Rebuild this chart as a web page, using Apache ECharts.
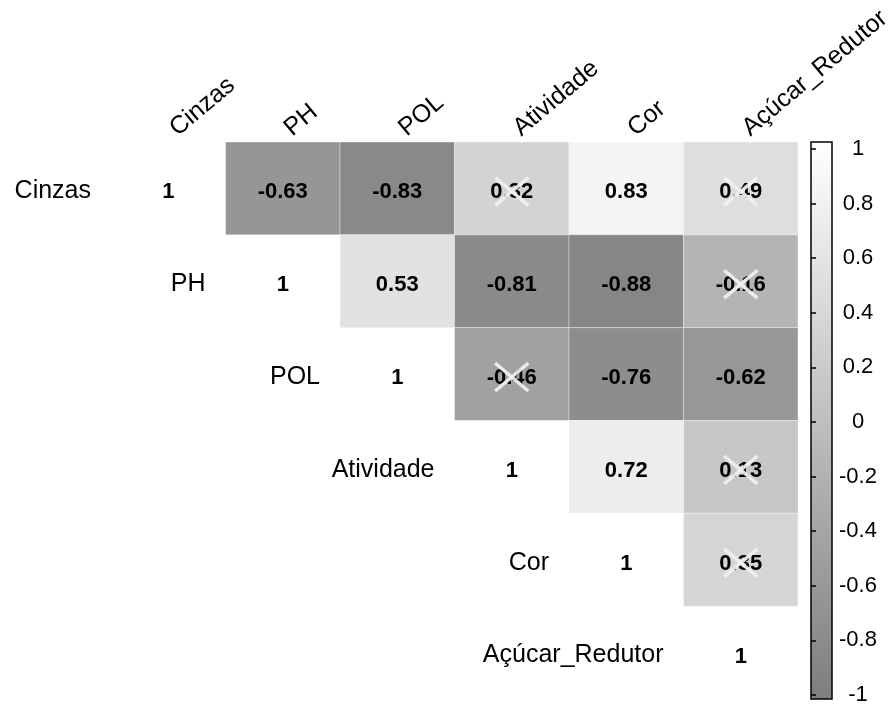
<!DOCTYPE html>
<html>
<head>
<meta charset="utf-8">
<script src="https://cdn.jsdelivr.net/npm/echarts@6/dist/echarts.min.js"></script>
<style>
  html, body { margin: 0; padding: 0; background: #fff; }
  #chart { width: 889px; height: 706px; }
</style>
</head>
<body>
<div id="chart"></div>
<script>
// Variables of the correlation matrix (row / column order)
const variables = ['Cinzas', 'PH', 'POL', 'Atividade', 'Cor', 'Açúcar_Redutor'];

// Upper-triangle correlations, one array per row (columns to the right of the diagonal)
const corCinzas = [-0.63, -0.83, 0.32, 0.83, 0.49];
const corPH = [0.53, -0.81, -0.88, -0.16];
const corPOL = [-0.46, -0.76, -0.62];
const corAtividade = [0.72, 0.13];
const corCor = [0.35];
const upperRows = [corCinzas, corPH, corPOL, corAtividade, corCor];

// Pairs whose correlation is not significant (crossed out)
const nonSignificant = [
  ['Cinzas', 'Atividade'],
  ['Cinzas', 'Açúcar_Redutor'],
  ['PH', 'Açúcar_Redutor'],
  ['POL', 'Atividade'],
  ['Atividade', 'Açúcar_Redutor'],
  ['Cor', 'Açúcar_Redutor']
];

// Colour scale range
const scaleMin = -1;
const scaleMax = 1;
const scaleStep = 0.2;

const FONT = '"Liberation Sans", Arial, sans-serif';

function isNonSig(a, b) {
  return nonSignificant.some(p => (p[0] === a && p[1] === b) || (p[0] === b && p[1] === a));
}

// [column, row, value, crossed]
const cellData = [];
upperRows.forEach((vals, r) => {
  vals.forEach((v, k) => {
    const c = r + 1 + k;
    cellData.push([c, r, v, isNonSig(variables[r], variables[c]) ? 1 : 0]);
  });
});

const diagData = variables.map((_, i) => [i, i]);
const rowLabelData = variables.map((_, i) => [i - 0.5, i]);
const topLabelData = variables.map((_, i) => [i, -0.5]);

const chart = echarts.init(document.getElementById('chart'), null, { renderer: 'canvas' });

const option = {
  backgroundColor: '#ffffff',
  animation: false,
  grid: [
    // correlation matrix
    { left: 111, top: 142, width: 687, height: 557, show: false },
    // colour bar frame
    { left: 811, top: 142, width: 21, height: 557, show: true,
      borderColor: '#000', borderWidth: 1.5, backgroundColor: 'transparent', z: 10 },
    // colour bar scale
    { left: 811, top: 149, width: 21, height: 548, show: false }
  ],
  xAxis: [
    { type: 'value', gridIndex: 0, min: -0.5, max: 5.5, show: false },
    { type: 'value', gridIndex: 1, min: 0, max: 1, show: false },
    { type: 'value', gridIndex: 2, min: 0, max: 1, show: false }
  ],
  yAxis: [
    { type: 'value', gridIndex: 0, min: -0.5, max: 5.5, inverse: true, show: false },
    { type: 'value', gridIndex: 1, min: 0, max: 1, show: false },
    { type: 'value', gridIndex: 2, min: scaleMin, max: scaleMax, interval: scaleStep,
      position: 'right', z: 12,
      axisLine: { show: false },
      axisTick: { show: true, inside: false, length: 5, lineStyle: { color: '#000', width: 1.5 } },
      splitLine: { show: false },
      axisLabel: { color: '#000', fontSize: 22, fontFamily: FONT, align: 'center', margin: 26 }
    }
  ],
  visualMap: {
    type: 'continuous',
    min: scaleMin,
    max: scaleMax,
    seriesIndex: 0,
    dimension: 2,
    calculable: false,
    hoverLink: false,
    orient: 'vertical',
    left: 811,
    top: 142,
    padding: 0,
    itemWidth: 21,
    itemHeight: 557,
    text: null,
    inRange: { color: ['#7e7e7e', '#ffffff'] },
    z: 2
  },
  series: [
    {
      // coloured correlation cells with values and crosses
      type: 'custom',
      xAxisIndex: 0, yAxisIndex: 0,
      data: cellData,
      clip: false,
      renderItem: function (params, api) {
        const c = api.value(0), r = api.value(1), v = api.value(2), ns = api.value(3);
        const p0 = api.coord([c - 0.5, r - 0.5]);
        const p1 = api.coord([c + 0.5, r + 0.5]);
        const ctr = api.coord([c, r]);
        const children = [
          { type: 'rect',
            shape: { x: Math.min(p0[0], p1[0]), y: Math.min(p0[1], p1[1]),
                     width: Math.abs(p1[0] - p0[0]), height: Math.abs(p1[1] - p0[1]) },
            style: { fill: api.visual('color'), stroke: 'rgba(255,255,255,0.35)', lineWidth: 1 } },
          { type: 'text', x: ctr[0], y: ctr[1] + 4,
            style: { text: v.toFixed(2), fill: '#000', font: 'bold 22px ' + FONT,
                     align: 'center', verticalAlign: 'middle' } }
        ];
        if (ns) {
          const a = api.coord([c - 0.145, r - 0.15]);
          const b = api.coord([c + 0.145, r + 0.15]);
          const st = { stroke: 'rgba(240,240,240,0.93)', lineWidth: 3.5 };
          children.push({ type: 'line', shape: { x1: a[0], y1: a[1] + 3, x2: b[0], y2: b[1] + 3 }, style: st });
          children.push({ type: 'line', shape: { x1: a[0], y1: b[1] + 3, x2: b[0], y2: a[1] + 3 }, style: st });
        }
        return { type: 'group', children: children };
      }
    },
    {
      // diagonal ones
      type: 'custom',
      xAxisIndex: 0, yAxisIndex: 0,
      data: diagData,
      clip: false,
      renderItem: function (params, api) {
        const p = api.coord([api.value(0), api.value(1)]);
        return { type: 'text', x: p[0], y: p[1] + 4,
          style: { text: '1', fill: '#000', font: 'bold 22px ' + FONT,
                   align: 'center', verticalAlign: 'middle' } };
      }
    },
    {
      // row names, right-aligned left of the diagonal
      type: 'custom',
      xAxisIndex: 0, yAxisIndex: 0,
      data: rowLabelData,
      clip: false,
      renderItem: function (params, api) {
        const p = api.coord([api.value(0), api.value(1)]);
        return { type: 'text', x: p[0] - 20, y: p[1] + 3,
          style: { text: variables[params.dataIndex], fill: '#000', font: '25px ' + FONT,
                   align: 'right', verticalAlign: 'middle' } };
      }
    },
    {
      // column names, rotated above the matrix
      type: 'custom',
      xAxisIndex: 0, yAxisIndex: 0,
      data: topLabelData,
      clip: false,
      renderItem: function (params, api) {
        const p = api.coord([api.value(0), api.value(1)]);
        return { type: 'text', x: p[0] + 13, y: p[1] - 1, rotation: 40 * Math.PI / 180,
          style: { text: variables[params.dataIndex], fill: '#000', font: '25px ' + FONT,
                   align: 'left', verticalAlign: 'bottom' } };
      }
    }
  ]
};

chart.setOption(option);
</script>
</body>
</html>
